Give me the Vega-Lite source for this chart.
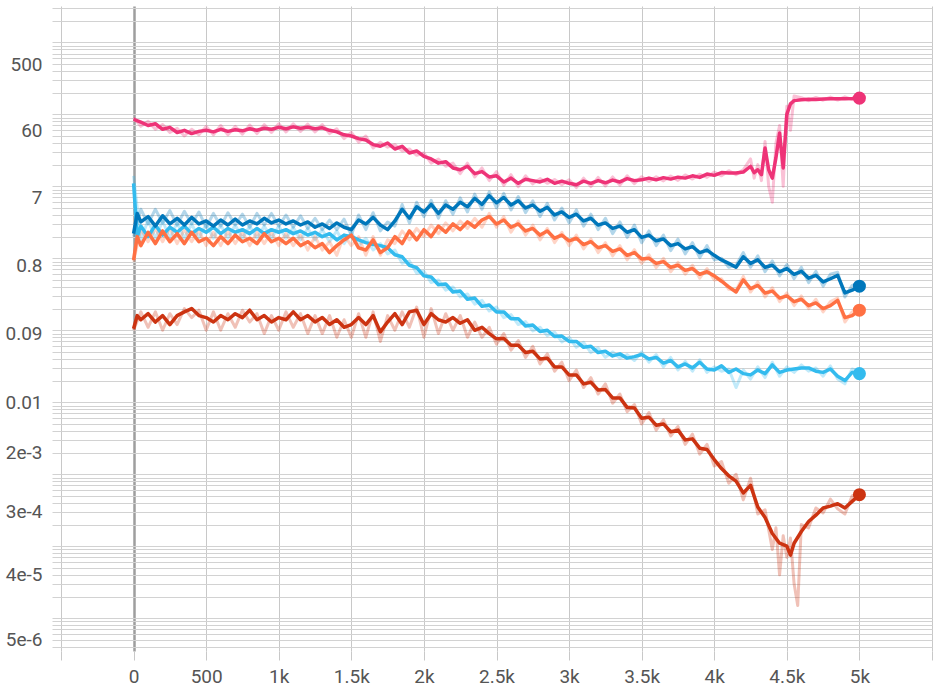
{
  "$schema": "https://vega.github.io/schema/vega-lite/v6.json",
  "width": 871,
  "height": 645,
  "autosize": "none",
  "padding": {"left": 61, "top": 6, "right": 7, "bottom": 40},
  "background": "white",
  "config": {
    "view": {"stroke": null},
    "font": "Roboto",
    "axis": {"labelFont": "Roboto", "labelFontSize": 19, "labelColor": "#555555", "domain": false, "title": null, "labelOverlap": false, "labelFlush": false, "ticks": true}
  },
  "datasets": {
    "smooth": [
      {"run":"cyan","step":0,"value":11},{"run":"cyan","step":25,"value":2.0},{"run":"cyan","step":50,"value":2.8},{"run":"cyan","step":100,"value":2.0},{"run":"cyan","step":150,"value":2.9},{"run":"cyan","step":200,"value":2.1},{"run":"cyan","step":250,"value":2.7},{"run":"cyan","step":300,"value":2.3},{"run":"cyan","step":350,"value":2.8},{"run":"cyan","step":400,"value":2.2},{"run":"cyan","step":450,"value":2.6},{"run":"cyan","step":500,"value":2.3},{"run":"cyan","step":550,"value":2.7},{"run":"cyan","step":600,"value":2.2},{"run":"cyan","step":650,"value":2.6},{"run":"cyan","step":700,"value":2.3},{"run":"cyan","step":750,"value":2.5},{"run":"cyan","step":800,"value":2.2},{"run":"cyan","step":850,"value":2.6},{"run":"cyan","step":900,"value":2.2},{"run":"cyan","step":950,"value":2.5},{"run":"cyan","step":1000,"value":2.3},{"run":"cyan","step":1050,"value":2.5},{"run":"cyan","step":1100,"value":2.2},{"run":"cyan","step":1150,"value":2.4},{"run":"cyan","step":1200,"value":2.1},{"run":"cyan","step":1250,"value":2.3},{"run":"cyan","step":1300,"value":2.0},{"run":"cyan","step":1350,"value":2.2},{"run":"cyan","step":1400,"value":1.8},{"run":"cyan","step":1450,"value":2.1},{"run":"cyan","step":1500,"value":2.0},{"run":"cyan","step":1550,"value":1.8},{"run":"cyan","step":1600,"value":1.65},{"run":"cyan","step":1650,"value":1.55},{"run":"cyan","step":1700,"value":1.5},{"run":"cyan","step":1750,"value":1.4},{"run":"cyan","step":1800,"value":1.12},{"run":"cyan","step":1850,"value":1.05},{"run":"cyan","step":1900,"value":0.8},{"run":"cyan","step":1950,"value":0.74},{"run":"cyan","step":2000,"value":0.57},{"run":"cyan","step":2050,"value":0.55},{"run":"cyan","step":2100,"value":0.43},{"run":"cyan","step":2150,"value":0.44},{"run":"cyan","step":2200,"value":0.34},{"run":"cyan","step":2250,"value":0.35},{"run":"cyan","step":2300,"value":0.27},{"run":"cyan","step":2350,"value":0.28},{"run":"cyan","step":2400,"value":0.215},{"run":"cyan","step":2450,"value":0.225},{"run":"cyan","step":2500,"value":0.18},{"run":"cyan","step":2550,"value":0.18},{"run":"cyan","step":2600,"value":0.145},{"run":"cyan","step":2650,"value":0.145},{"run":"cyan","step":2700,"value":0.115},{"run":"cyan","step":2750,"value":0.118},{"run":"cyan","step":2800,"value":0.096},{"run":"cyan","step":2850,"value":0.1},{"run":"cyan","step":2900,"value":0.082},{"run":"cyan","step":2950,"value":0.083},{"run":"cyan","step":3000,"value":0.07},{"run":"cyan","step":3050,"value":0.07},{"run":"cyan","step":3100,"value":0.058},{"run":"cyan","step":3150,"value":0.06},{"run":"cyan","step":3200,"value":0.049},{"run":"cyan","step":3250,"value":0.051},{"run":"cyan","step":3300,"value":0.044},{"run":"cyan","step":3350,"value":0.047},{"run":"cyan","step":3400,"value":0.041},{"run":"cyan","step":3450,"value":0.043},{"run":"cyan","step":3500,"value":0.046},{"run":"cyan","step":3550,"value":0.04},{"run":"cyan","step":3600,"value":0.042},{"run":"cyan","step":3650,"value":0.035},{"run":"cyan","step":3700,"value":0.038},{"run":"cyan","step":3750,"value":0.031},{"run":"cyan","step":3800,"value":0.034},{"run":"cyan","step":3850,"value":0.03},{"run":"cyan","step":3900,"value":0.036},{"run":"cyan","step":3950,"value":0.029},{"run":"cyan","step":4000,"value":0.028},{"run":"cyan","step":4050,"value":0.032},{"run":"cyan","step":4100,"value":0.026},{"run":"cyan","step":4150,"value":0.029},{"run":"cyan","step":4200,"value":0.025},{"run":"cyan","step":4250,"value":0.024},{"run":"cyan","step":4300,"value":0.028},{"run":"cyan","step":4350,"value":0.025},{"run":"cyan","step":4400,"value":0.033},{"run":"cyan","step":4450,"value":0.026},{"run":"cyan","step":4500,"value":0.028},{"run":"cyan","step":4550,"value":0.029},{"run":"cyan","step":4600,"value":0.03},{"run":"cyan","step":4650,"value":0.03},{"run":"cyan","step":4700,"value":0.027},{"run":"cyan","step":4750,"value":0.026},{"run":"cyan","step":4800,"value":0.029},{"run":"cyan","step":4850,"value":0.023},{"run":"cyan","step":4900,"value":0.02},{"run":"cyan","step":4950,"value":0.026},{"run":"cyan","step":5000,"value":0.025},

      {"run":"orange","step":0,"value":0.95},{"run":"orange","step":25,"value":2.0},{"run":"orange","step":50,"value":1.5},{"run":"orange","step":100,"value":2.3},{"run":"orange","step":150,"value":1.6},{"run":"orange","step":200,"value":2.4},{"run":"orange","step":250,"value":1.7},{"run":"orange","step":300,"value":2.2},{"run":"orange","step":350,"value":1.6},{"run":"orange","step":400,"value":2.3},{"run":"orange","step":450,"value":1.7},{"run":"orange","step":500,"value":1.9},{"run":"orange","step":550,"value":1.5},{"run":"orange","step":600,"value":2.0},{"run":"orange","step":650,"value":1.6},{"run":"orange","step":700,"value":2.1},{"run":"orange","step":750,"value":1.7},{"run":"orange","step":800,"value":1.9},{"run":"orange","step":850,"value":1.6},{"run":"orange","step":900,"value":2.2},{"run":"orange","step":950,"value":1.7},{"run":"orange","step":1000,"value":1.9},{"run":"orange","step":1050,"value":1.6},{"run":"orange","step":1100,"value":1.9},{"run":"orange","step":1150,"value":1.5},{"run":"orange","step":1200,"value":1.7},{"run":"orange","step":1250,"value":1.4},{"run":"orange","step":1300,"value":1.6},{"run":"orange","step":1350,"value":1.2},{"run":"orange","step":1400,"value":1.5},{"run":"orange","step":1450,"value":1.8},{"run":"orange","step":1500,"value":2.1},{"run":"orange","step":1550,"value":1.4},{"run":"orange","step":1600,"value":1.3},{"run":"orange","step":1650,"value":1.8},{"run":"orange","step":1700,"value":1.2},{"run":"orange","step":1750,"value":1.4},{"run":"orange","step":1800,"value":2.0},{"run":"orange","step":1850,"value":1.6},{"run":"orange","step":1900,"value":2.4},{"run":"orange","step":1950,"value":1.8},{"run":"orange","step":2000,"value":2.5},{"run":"orange","step":2050,"value":2.0},{"run":"orange","step":2100,"value":2.8},{"run":"orange","step":2150,"value":2.3},{"run":"orange","step":2200,"value":3.0},{"run":"orange","step":2250,"value":2.5},{"run":"orange","step":2300,"value":3.2},{"run":"orange","step":2350,"value":2.7},{"run":"orange","step":2400,"value":3.4},{"run":"orange","step":2450,"value":3.8},{"run":"orange","step":2500,"value":3.0},{"run":"orange","step":2550,"value":3.4},{"run":"orange","step":2600,"value":2.7},{"run":"orange","step":2650,"value":3.0},{"run":"orange","step":2700,"value":2.4},{"run":"orange","step":2750,"value":2.6},{"run":"orange","step":2800,"value":2.1},{"run":"orange","step":2850,"value":2.4},{"run":"orange","step":2900,"value":1.9},{"run":"orange","step":2950,"value":2.1},{"run":"orange","step":3000,"value":1.75},{"run":"orange","step":3050,"value":1.9},{"run":"orange","step":3100,"value":1.55},{"run":"orange","step":3150,"value":1.7},{"run":"orange","step":3200,"value":1.4},{"run":"orange","step":3250,"value":1.5},{"run":"orange","step":3300,"value":1.25},{"run":"orange","step":3350,"value":1.35},{"run":"orange","step":3400,"value":1.1},{"run":"orange","step":3450,"value":1.2},{"run":"orange","step":3500,"value":0.98},{"run":"orange","step":3550,"value":1.0},{"run":"orange","step":3600,"value":0.85},{"run":"orange","step":3650,"value":0.9},{"run":"orange","step":3700,"value":0.75},{"run":"orange","step":3750,"value":0.8},{"run":"orange","step":3800,"value":0.68},{"run":"orange","step":3850,"value":0.72},{"run":"orange","step":3900,"value":0.6},{"run":"orange","step":3950,"value":0.65},{"run":"orange","step":4000,"value":0.57},{"run":"orange","step":4050,"value":0.48},{"run":"orange","step":4100,"value":0.4},{"run":"orange","step":4150,"value":0.34},{"run":"orange","step":4200,"value":0.5},{"run":"orange","step":4250,"value":0.38},{"run":"orange","step":4300,"value":0.42},{"run":"orange","step":4350,"value":0.33},{"run":"orange","step":4400,"value":0.35},{"run":"orange","step":4450,"value":0.28},{"run":"orange","step":4500,"value":0.3},{"run":"orange","step":4550,"value":0.25},{"run":"orange","step":4600,"value":0.27},{"run":"orange","step":4650,"value":0.22},{"run":"orange","step":4700,"value":0.24},{"run":"orange","step":4750,"value":0.2},{"run":"orange","step":4800,"value":0.22},{"run":"orange","step":4850,"value":0.26},{"run":"orange","step":4900,"value":0.15},{"run":"orange","step":4950,"value":0.16},{"run":"orange","step":5000,"value":0.19},

      {"run":"blue","step":0,"value":2.2},{"run":"blue","step":25,"value":4.2},{"run":"blue","step":50,"value":3.2},{"run":"blue","step":100,"value":3.8},{"run":"blue","step":150,"value":2.8},{"run":"blue","step":200,"value":3.9},{"run":"blue","step":250,"value":3.0},{"run":"blue","step":300,"value":3.6},{"run":"blue","step":350,"value":2.9},{"run":"blue","step":400,"value":3.7},{"run":"blue","step":450,"value":3.0},{"run":"blue","step":500,"value":3.3},{"run":"blue","step":550,"value":2.8},{"run":"blue","step":600,"value":3.4},{"run":"blue","step":650,"value":2.9},{"run":"blue","step":700,"value":3.5},{"run":"blue","step":750,"value":2.9},{"run":"blue","step":800,"value":3.3},{"run":"blue","step":850,"value":3.0},{"run":"blue","step":900,"value":3.6},{"run":"blue","step":950,"value":3.1},{"run":"blue","step":1000,"value":3.4},{"run":"blue","step":1050,"value":3.0},{"run":"blue","step":1100,"value":3.3},{"run":"blue","step":1150,"value":2.9},{"run":"blue","step":1200,"value":3.2},{"run":"blue","step":1250,"value":2.7},{"run":"blue","step":1300,"value":3.0},{"run":"blue","step":1350,"value":2.6},{"run":"blue","step":1400,"value":3.1},{"run":"blue","step":1450,"value":2.7},{"run":"blue","step":1500,"value":2.5},{"run":"blue","step":1550,"value":3.4},{"run":"blue","step":1600,"value":3.0},{"run":"blue","step":1650,"value":3.7},{"run":"blue","step":1700,"value":2.9},{"run":"blue","step":1750,"value":2.5},{"run":"blue","step":1800,"value":3.3},{"run":"blue","step":1850,"value":4.8},{"run":"blue","step":1900,"value":3.6},{"run":"blue","step":1950,"value":5.2},{"run":"blue","step":2000,"value":4.4},{"run":"blue","step":2050,"value":5.6},{"run":"blue","step":2100,"value":4.2},{"run":"blue","step":2150,"value":5.5},{"run":"blue","step":2200,"value":4.8},{"run":"blue","step":2250,"value":6.0},{"run":"blue","step":2300,"value":5.2},{"run":"blue","step":2350,"value":6.8},{"run":"blue","step":2400,"value":5.6},{"run":"blue","step":2450,"value":7.4},{"run":"blue","step":2500,"value":5.9},{"run":"blue","step":2550,"value":7.0},{"run":"blue","step":2600,"value":5.5},{"run":"blue","step":2650,"value":6.3},{"run":"blue","step":2700,"value":5.0},{"run":"blue","step":2750,"value":5.5},{"run":"blue","step":2800,"value":4.5},{"run":"blue","step":2850,"value":5.1},{"run":"blue","step":2900,"value":4.0},{"run":"blue","step":2950,"value":4.4},{"run":"blue","step":3000,"value":3.7},{"run":"blue","step":3050,"value":4.1},{"run":"blue","step":3100,"value":3.3},{"run":"blue","step":3150,"value":3.6},{"run":"blue","step":3200,"value":2.9},{"run":"blue","step":3250,"value":3.1},{"run":"blue","step":3300,"value":2.6},{"run":"blue","step":3350,"value":2.8},{"run":"blue","step":3400,"value":2.3},{"run":"blue","step":3450,"value":2.5},{"run":"blue","step":3500,"value":1.95},{"run":"blue","step":3550,"value":2.1},{"run":"blue","step":3600,"value":1.75},{"run":"blue","step":3650,"value":1.85},{"run":"blue","step":3700,"value":1.5},{"run":"blue","step":3750,"value":1.6},{"run":"blue","step":3800,"value":1.35},{"run":"blue","step":3850,"value":1.45},{"run":"blue","step":3900,"value":1.2},{"run":"blue","step":3950,"value":1.3},{"run":"blue","step":4000,"value":1.1},{"run":"blue","step":4050,"value":0.95},{"run":"blue","step":4100,"value":0.85},{"run":"blue","step":4150,"value":0.75},{"run":"blue","step":4200,"value":1.05},{"run":"blue","step":4250,"value":0.85},{"run":"blue","step":4300,"value":0.95},{"run":"blue","step":4350,"value":0.75},{"run":"blue","step":4400,"value":0.8},{"run":"blue","step":4450,"value":0.65},{"run":"blue","step":4500,"value":0.72},{"run":"blue","step":4550,"value":0.6},{"run":"blue","step":4600,"value":0.66},{"run":"blue","step":4650,"value":0.53},{"run":"blue","step":4700,"value":0.58},{"run":"blue","step":4750,"value":0.47},{"run":"blue","step":4800,"value":0.52},{"run":"blue","step":4850,"value":0.58},{"run":"blue","step":4900,"value":0.33},{"run":"blue","step":4950,"value":0.36},{"run":"blue","step":5000,"value":0.41},

      {"run":"magenta","step":0,"value":85},{"run":"magenta","step":50,"value":78},{"run":"magenta","step":100,"value":70},{"run":"magenta","step":150,"value":74},{"run":"magenta","step":200,"value":62},{"run":"magenta","step":250,"value":66},{"run":"magenta","step":300,"value":56},{"run":"magenta","step":350,"value":60},{"run":"magenta","step":400,"value":54},{"run":"magenta","step":450,"value":58},{"run":"magenta","step":500,"value":60},{"run":"magenta","step":550,"value":57},{"run":"magenta","step":600,"value":62},{"run":"magenta","step":650,"value":58},{"run":"magenta","step":700,"value":61},{"run":"magenta","step":750,"value":59},{"run":"magenta","step":800,"value":63},{"run":"magenta","step":850,"value":60},{"run":"magenta","step":900,"value":64},{"run":"magenta","step":950,"value":62},{"run":"magenta","step":1000,"value":66},{"run":"magenta","step":1050,"value":63},{"run":"magenta","step":1100,"value":67},{"run":"magenta","step":1150,"value":64},{"run":"magenta","step":1200,"value":66},{"run":"magenta","step":1250,"value":63},{"run":"magenta","step":1300,"value":65},{"run":"magenta","step":1350,"value":60},{"run":"magenta","step":1400,"value":57},{"run":"magenta","step":1450,"value":52},{"run":"magenta","step":1500,"value":50},{"run":"magenta","step":1550,"value":46},{"run":"magenta","step":1600,"value":44},{"run":"magenta","step":1650,"value":38},{"run":"magenta","step":1700,"value":36},{"run":"magenta","step":1750,"value":40},{"run":"magenta","step":1800,"value":33},{"run":"magenta","step":1850,"value":36},{"run":"magenta","step":1900,"value":29},{"run":"magenta","step":1950,"value":31},{"run":"magenta","step":2000,"value":26},{"run":"magenta","step":2050,"value":24},{"run":"magenta","step":2100,"value":21},{"run":"magenta","step":2150,"value":22},{"run":"magenta","step":2200,"value":18},{"run":"magenta","step":2250,"value":17},{"run":"magenta","step":2300,"value":19},{"run":"magenta","step":2350,"value":15},{"run":"magenta","step":2400,"value":16},{"run":"magenta","step":2450,"value":13.5},{"run":"magenta","step":2500,"value":14},{"run":"magenta","step":2550,"value":11.5},{"run":"magenta","step":2600,"value":13},{"run":"magenta","step":2650,"value":11},{"run":"magenta","step":2700,"value":12.5},{"run":"magenta","step":2750,"value":12},{"run":"magenta","step":2800,"value":11.5},{"run":"magenta","step":2850,"value":12.5},{"run":"magenta","step":2900,"value":11},{"run":"magenta","step":2950,"value":11.8},{"run":"magenta","step":3000,"value":11},{"run":"magenta","step":3050,"value":10.5},{"run":"magenta","step":3100,"value":11.8},{"run":"magenta","step":3150,"value":11},{"run":"magenta","step":3200,"value":12},{"run":"magenta","step":3250,"value":11.2},{"run":"magenta","step":3300,"value":12.2},{"run":"magenta","step":3350,"value":11.5},{"run":"magenta","step":3400,"value":12.8},{"run":"magenta","step":3450,"value":12},{"run":"magenta","step":3500,"value":12.3},{"run":"magenta","step":3550,"value":13},{"run":"magenta","step":3600,"value":12.3},{"run":"magenta","step":3650,"value":13.2},{"run":"magenta","step":3700,"value":12.6},{"run":"magenta","step":3750,"value":13.4},{"run":"magenta","step":3800,"value":13},{"run":"magenta","step":3850,"value":14},{"run":"magenta","step":3900,"value":13.3},{"run":"magenta","step":3950,"value":14.8},{"run":"magenta","step":4000,"value":14.2},{"run":"magenta","step":4050,"value":15.5},{"run":"magenta","step":4100,"value":15.3},{"run":"magenta","step":4150,"value":15.3},{"run":"magenta","step":4200,"value":15.8},{"run":"magenta","step":4250,"value":19},{"run":"magenta","step":4275,"value":15.5},{"run":"magenta","step":4300,"value":17},{"run":"magenta","step":4325,"value":14.5},{"run":"magenta","step":4350,"value":34},{"run":"magenta","step":4375,"value":17},{"run":"magenta","step":4400,"value":13},{"run":"magenta","step":4425,"value":25},{"run":"magenta","step":4450,"value":55},{"run":"magenta","step":4475,"value":18},{"run":"magenta","step":4500,"value":100},{"run":"magenta","step":4525,"value":140},{"run":"magenta","step":4550,"value":155},{"run":"magenta","step":4600,"value":160},{"run":"magenta","step":4650,"value":162},{"run":"magenta","step":4700,"value":161},{"run":"magenta","step":4750,"value":163},{"run":"magenta","step":4800,"value":164},{"run":"magenta","step":4850,"value":164},{"run":"magenta","step":4900,"value":165},{"run":"magenta","step":4950,"value":166},{"run":"magenta","step":5000,"value":168},

      {"run":"red","step":0,"value":0.105},{"run":"red","step":25,"value":0.16},{"run":"red","step":50,"value":0.14},{"run":"red","step":100,"value":0.17},{"run":"red","step":150,"value":0.13},{"run":"red","step":200,"value":0.16},{"run":"red","step":250,"value":0.12},{"run":"red","step":300,"value":0.16},{"run":"red","step":350,"value":0.18},{"run":"red","step":400,"value":0.2},{"run":"red","step":450,"value":0.16},{"run":"red","step":500,"value":0.15},{"run":"red","step":550,"value":0.13},{"run":"red","step":600,"value":0.16},{"run":"red","step":650,"value":0.14},{"run":"red","step":700,"value":0.17},{"run":"red","step":750,"value":0.15},{"run":"red","step":800,"value":0.19},{"run":"red","step":850,"value":0.14},{"run":"red","step":900,"value":0.16},{"run":"red","step":950,"value":0.13},{"run":"red","step":1000,"value":0.15},{"run":"red","step":1050,"value":0.14},{"run":"red","step":1100,"value":0.18},{"run":"red","step":1150,"value":0.14},{"run":"red","step":1200,"value":0.16},{"run":"red","step":1250,"value":0.13},{"run":"red","step":1300,"value":0.15},{"run":"red","step":1350,"value":0.12},{"run":"red","step":1400,"value":0.14},{"run":"red","step":1450,"value":0.11},{"run":"red","step":1500,"value":0.12},{"run":"red","step":1550,"value":0.15},{"run":"red","step":1600,"value":0.12},{"run":"red","step":1650,"value":0.16},{"run":"red","step":1700,"value":0.095},{"run":"red","step":1750,"value":0.13},{"run":"red","step":1800,"value":0.17},{"run":"red","step":1850,"value":0.12},{"run":"red","step":1900,"value":0.18},{"run":"red","step":1950,"value":0.19},{"run":"red","step":2000,"value":0.12},{"run":"red","step":2050,"value":0.17},{"run":"red","step":2100,"value":0.14},{"run":"red","step":2150,"value":0.13},{"run":"red","step":2200,"value":0.15},{"run":"red","step":2250,"value":0.125},{"run":"red","step":2300,"value":0.14},{"run":"red","step":2350,"value":0.1},{"run":"red","step":2400,"value":0.11},{"run":"red","step":2450,"value":0.09},{"run":"red","step":2500,"value":0.076},{"run":"red","step":2550,"value":0.077},{"run":"red","step":2600,"value":0.062},{"run":"red","step":2650,"value":0.062},{"run":"red","step":2700,"value":0.049},{"run":"red","step":2750,"value":0.051},{"run":"red","step":2800,"value":0.04},{"run":"red","step":2850,"value":0.041},{"run":"red","step":2900,"value":0.031},{"run":"red","step":2950,"value":0.031},{"run":"red","step":3000,"value":0.024},{"run":"red","step":3050,"value":0.024},{"run":"red","step":3100,"value":0.018},{"run":"red","step":3150,"value":0.019},{"run":"red","step":3200,"value":0.0148},{"run":"red","step":3250,"value":0.015},{"run":"red","step":3300,"value":0.0115},{"run":"red","step":3350,"value":0.0115},{"run":"red","step":3400,"value":0.0085},{"run":"red","step":3450,"value":0.0083},{"run":"red","step":3500,"value":0.006},{"run":"red","step":3550,"value":0.0062},{"run":"red","step":3600,"value":0.0048},{"run":"red","step":3650,"value":0.005},{"run":"red","step":3700,"value":0.0039},{"run":"red","step":3750,"value":0.0041},{"run":"red","step":3800,"value":0.003},{"run":"red","step":3850,"value":0.0031},{"run":"red","step":3900,"value":0.0023},{"run":"red","step":3950,"value":0.0022},{"run":"red","step":4000,"value":0.0016},{"run":"red","step":4050,"value":0.0012},{"run":"red","step":4100,"value":0.00095},{"run":"red","step":4150,"value":0.0008},{"run":"red","step":4200,"value":0.00055},{"run":"red","step":4250,"value":0.0007},{"run":"red","step":4300,"value":0.00035},{"run":"red","step":4350,"value":0.00025},{"run":"red","step":4400,"value":0.00015},{"run":"red","step":4450,"value":0.00011},{"run":"red","step":4500,"value":0.0001},{"run":"red","step":4525,"value":0.000075},{"run":"red","step":4550,"value":0.00011},{"run":"red","step":4600,"value":0.00016},{"run":"red","step":4650,"value":0.00022},{"run":"red","step":4700,"value":0.00027},{"run":"red","step":4750,"value":0.00034},{"run":"red","step":4800,"value":0.00036},{"run":"red","step":4850,"value":0.00039},{"run":"red","step":4900,"value":0.00034},{"run":"red","step":4950,"value":0.00042},{"run":"red","step":5000,"value":0.00052}
    ],
    "raw": [
      {"run":"cyan","step":0,"value":14},{"run":"cyan","step":50,"value":1.8},{"run":"cyan","step":100,"value":3.4},{"run":"cyan","step":150,"value":1.9},{"run":"cyan","step":200,"value":3.3},{"run":"cyan","step":250,"value":1.9},{"run":"cyan","step":300,"value":3.1},{"run":"cyan","step":350,"value":1.9},{"run":"cyan","step":400,"value":3.0},{"run":"cyan","step":450,"value":1.9},{"run":"cyan","step":500,"value":3.0},{"run":"cyan","step":550,"value":1.9},{"run":"cyan","step":600,"value":2.9},{"run":"cyan","step":650,"value":1.9},{"run":"cyan","step":700,"value":2.9},{"run":"cyan","step":750,"value":1.9},{"run":"cyan","step":800,"value":2.8},{"run":"cyan","step":850,"value":1.9},{"run":"cyan","step":900,"value":2.8},{"run":"cyan","step":950,"value":1.9},{"run":"cyan","step":1000,"value":2.8},{"run":"cyan","step":1050,"value":1.9},{"run":"cyan","step":1100,"value":2.7},{"run":"cyan","step":1150,"value":1.8},{"run":"cyan","step":1200,"value":2.6},{"run":"cyan","step":1250,"value":1.8},{"run":"cyan","step":1300,"value":2.5},{"run":"cyan","step":1350,"value":1.7},{"run":"cyan","step":1400,"value":2.4},{"run":"cyan","step":1450,"value":1.6},{"run":"cyan","step":1500,"value":2.3},{"run":"cyan","step":1550,"value":1.5},{"run":"cyan","step":1600,"value":1.9},{"run":"cyan","step":1650,"value":1.3},{"run":"cyan","step":1700,"value":1.6},{"run":"cyan","step":1750,"value":1.15},{"run":"cyan","step":1800,"value":1.3},{"run":"cyan","step":1850,"value":0.85},{"run":"cyan","step":1900,"value":0.92},{"run":"cyan","step":1950,"value":0.62},{"run":"cyan","step":2000,"value":0.66},{"run":"cyan","step":2050,"value":0.46},{"run":"cyan","step":2100,"value":0.5},{"run":"cyan","step":2150,"value":0.36},{"run":"cyan","step":2200,"value":0.4},{"run":"cyan","step":2250,"value":0.29},{"run":"cyan","step":2300,"value":0.32},{"run":"cyan","step":2350,"value":0.23},{"run":"cyan","step":2400,"value":0.26},{"run":"cyan","step":2450,"value":0.185},{"run":"cyan","step":2500,"value":0.21},{"run":"cyan","step":2550,"value":0.15},{"run":"cyan","step":2600,"value":0.165},{"run":"cyan","step":2650,"value":0.12},{"run":"cyan","step":2700,"value":0.132},{"run":"cyan","step":2750,"value":0.098},{"run":"cyan","step":2800,"value":0.11},{"run":"cyan","step":2850,"value":0.084},{"run":"cyan","step":2900,"value":0.094},{"run":"cyan","step":2950,"value":0.069},{"run":"cyan","step":3000,"value":0.08},{"run":"cyan","step":3050,"value":0.058},{"run":"cyan","step":3100,"value":0.068},{"run":"cyan","step":3150,"value":0.049},{"run":"cyan","step":3200,"value":0.057},{"run":"cyan","step":3250,"value":0.042},{"run":"cyan","step":3300,"value":0.05},{"run":"cyan","step":3350,"value":0.041},{"run":"cyan","step":3400,"value":0.046},{"run":"cyan","step":3450,"value":0.038},{"run":"cyan","step":3500,"value":0.05},{"run":"cyan","step":3550,"value":0.036},{"run":"cyan","step":3600,"value":0.046},{"run":"cyan","step":3650,"value":0.031},{"run":"cyan","step":3700,"value":0.042},{"run":"cyan","step":3750,"value":0.028},{"run":"cyan","step":3800,"value":0.037},{"run":"cyan","step":3850,"value":0.027},{"run":"cyan","step":3900,"value":0.039},{"run":"cyan","step":3950,"value":0.026},{"run":"cyan","step":4000,"value":0.031},{"run":"cyan","step":4050,"value":0.027},{"run":"cyan","step":4100,"value":0.029},{"run":"cyan","step":4150,"value":0.016},{"run":"cyan","step":4200,"value":0.028},{"run":"cyan","step":4250,"value":0.021},{"run":"cyan","step":4300,"value":0.031},{"run":"cyan","step":4350,"value":0.022},{"run":"cyan","step":4400,"value":0.036},{"run":"cyan","step":4450,"value":0.023},{"run":"cyan","step":4500,"value":0.031},{"run":"cyan","step":4550,"value":0.026},{"run":"cyan","step":4600,"value":0.033},{"run":"cyan","step":4650,"value":0.027},{"run":"cyan","step":4700,"value":0.03},{"run":"cyan","step":4750,"value":0.023},{"run":"cyan","step":4800,"value":0.032},{"run":"cyan","step":4850,"value":0.021},{"run":"cyan","step":4900,"value":0.018},{"run":"cyan","step":4950,"value":0.029},{"run":"cyan","step":5000,"value":0.027},

      {"run":"orange","step":0,"value":0.9},{"run":"orange","step":50,"value":2.6},{"run":"orange","step":100,"value":1.7},{"run":"orange","step":150,"value":2.6},{"run":"orange","step":200,"value":1.7},{"run":"orange","step":250,"value":2.6},{"run":"orange","step":300,"value":1.6},{"run":"orange","step":350,"value":2.5},{"run":"orange","step":400,"value":1.7},{"run":"orange","step":450,"value":2.4},{"run":"orange","step":500,"value":1.5},{"run":"orange","step":550,"value":2.3},{"run":"orange","step":600,"value":1.5},{"run":"orange","step":650,"value":2.4},{"run":"orange","step":700,"value":1.6},{"run":"orange","step":750,"value":2.3},{"run":"orange","step":800,"value":1.5},{"run":"orange","step":850,"value":2.3},{"run":"orange","step":900,"value":1.6},{"run":"orange","step":950,"value":2.3},{"run":"orange","step":1000,"value":1.5},{"run":"orange","step":1050,"value":2.2},{"run":"orange","step":1100,"value":1.5},{"run":"orange","step":1150,"value":2.1},{"run":"orange","step":1200,"value":1.3},{"run":"orange","step":1250,"value":2.0},{"run":"orange","step":1300,"value":1.3},{"run":"orange","step":1350,"value":1.7},{"run":"orange","step":1400,"value":1.1},{"run":"orange","step":1450,"value":2.1},{"run":"orange","step":1500,"value":1.5},{"run":"orange","step":1550,"value":2.0},{"run":"orange","step":1600,"value":1.1},{"run":"orange","step":1650,"value":2.0},{"run":"orange","step":1700,"value":1.1},{"run":"orange","step":1750,"value":1.8},{"run":"orange","step":1800,"value":1.6},{"run":"orange","step":1850,"value":2.4},{"run":"orange","step":1900,"value":1.8},{"run":"orange","step":1950,"value":2.6},{"run":"orange","step":2000,"value":2.0},{"run":"orange","step":2050,"value":2.9},{"run":"orange","step":2100,"value":2.2},{"run":"orange","step":2150,"value":3.1},{"run":"orange","step":2200,"value":2.4},{"run":"orange","step":2250,"value":3.3},{"run":"orange","step":2300,"value":2.6},{"run":"orange","step":2350,"value":3.6},{"run":"orange","step":2400,"value":2.7},{"run":"orange","step":2450,"value":4.2},{"run":"orange","step":2500,"value":2.7},{"run":"orange","step":2550,"value":3.8},{"run":"orange","step":2600,"value":2.3},{"run":"orange","step":2650,"value":3.3},{"run":"orange","step":2700,"value":2.1},{"run":"orange","step":2750,"value":2.9},{"run":"orange","step":2800,"value":1.8},{"run":"orange","step":2850,"value":2.6},{"run":"orange","step":2900,"value":1.65},{"run":"orange","step":2950,"value":2.3},{"run":"orange","step":3000,"value":1.5},{"run":"orange","step":3050,"value":2.1},{"run":"orange","step":3100,"value":1.35},{"run":"orange","step":3150,"value":1.85},{"run":"orange","step":3200,"value":1.2},{"run":"orange","step":3250,"value":1.65},{"run":"orange","step":3300,"value":1.08},{"run":"orange","step":3350,"value":1.5},{"run":"orange","step":3400,"value":0.95},{"run":"orange","step":3450,"value":1.32},{"run":"orange","step":3500,"value":0.85},{"run":"orange","step":3550,"value":1.12},{"run":"orange","step":3600,"value":0.74},{"run":"orange","step":3650,"value":1.0},{"run":"orange","step":3700,"value":0.65},{"run":"orange","step":3750,"value":0.88},{"run":"orange","step":3800,"value":0.6},{"run":"orange","step":3850,"value":0.8},{"run":"orange","step":3900,"value":0.53},{"run":"orange","step":3950,"value":0.72},{"run":"orange","step":4000,"value":0.5},{"run":"orange","step":4050,"value":0.52},{"run":"orange","step":4100,"value":0.37},{"run":"orange","step":4150,"value":0.36},{"run":"orange","step":4200,"value":0.56},{"run":"orange","step":4250,"value":0.34},{"run":"orange","step":4300,"value":0.47},{"run":"orange","step":4350,"value":0.29},{"run":"orange","step":4400,"value":0.39},{"run":"orange","step":4450,"value":0.25},{"run":"orange","step":4500,"value":0.33},{"run":"orange","step":4550,"value":0.22},{"run":"orange","step":4600,"value":0.3},{"run":"orange","step":4650,"value":0.2},{"run":"orange","step":4700,"value":0.27},{"run":"orange","step":4750,"value":0.18},{"run":"orange","step":4800,"value":0.25},{"run":"orange","step":4850,"value":0.28},{"run":"orange","step":4900,"value":0.13},{"run":"orange","step":4950,"value":0.18},{"run":"orange","step":5000,"value":0.21},

      {"run":"blue","step":0,"value":2.0},{"run":"blue","step":50,"value":4.8},{"run":"blue","step":100,"value":3.0},{"run":"blue","step":150,"value":4.8},{"run":"blue","step":200,"value":3.1},{"run":"blue","step":250,"value":4.6},{"run":"blue","step":300,"value":2.9},{"run":"blue","step":350,"value":4.5},{"run":"blue","step":400,"value":3.0},{"run":"blue","step":450,"value":4.4},{"run":"blue","step":500,"value":2.7},{"run":"blue","step":550,"value":4.2},{"run":"blue","step":600,"value":2.8},{"run":"blue","step":650,"value":4.3},{"run":"blue","step":700,"value":2.9},{"run":"blue","step":750,"value":4.1},{"run":"blue","step":800,"value":2.7},{"run":"blue","step":850,"value":4.2},{"run":"blue","step":900,"value":2.9},{"run":"blue","step":950,"value":4.2},{"run":"blue","step":1000,"value":2.8},{"run":"blue","step":1050,"value":4.0},{"run":"blue","step":1100,"value":2.7},{"run":"blue","step":1150,"value":3.9},{"run":"blue","step":1200,"value":2.6},{"run":"blue","step":1250,"value":3.6},{"run":"blue","step":1300,"value":2.5},{"run":"blue","step":1350,"value":3.4},{"run":"blue","step":1400,"value":2.5},{"run":"blue","step":1450,"value":3.5},{"run":"blue","step":1500,"value":2.1},{"run":"blue","step":1550,"value":4.0},{"run":"blue","step":1600,"value":2.5},{"run":"blue","step":1650,"value":4.3},{"run":"blue","step":1700,"value":2.4},{"run":"blue","step":1750,"value":3.2},{"run":"blue","step":1800,"value":2.8},{"run":"blue","step":1850,"value":5.6},{"run":"blue","step":1900,"value":3.1},{"run":"blue","step":1950,"value":6.0},{"run":"blue","step":2000,"value":3.8},{"run":"blue","step":2050,"value":6.4},{"run":"blue","step":2100,"value":3.6},{"run":"blue","step":2150,"value":6.3},{"run":"blue","step":2200,"value":4.1},{"run":"blue","step":2250,"value":6.9},{"run":"blue","step":2300,"value":4.4},{"run":"blue","step":2350,"value":7.8},{"run":"blue","step":2400,"value":4.8},{"run":"blue","step":2450,"value":8.4},{"run":"blue","step":2500,"value":5.0},{"run":"blue","step":2550,"value":8.0},{"run":"blue","step":2600,"value":4.7},{"run":"blue","step":2650,"value":7.2},{"run":"blue","step":2700,"value":4.3},{"run":"blue","step":2750,"value":6.3},{"run":"blue","step":2800,"value":3.8},{"run":"blue","step":2850,"value":5.8},{"run":"blue","step":2900,"value":3.4},{"run":"blue","step":2950,"value":5.0},{"run":"blue","step":3000,"value":3.1},{"run":"blue","step":3050,"value":4.7},{"run":"blue","step":3100,"value":2.8},{"run":"blue","step":3150,"value":4.1},{"run":"blue","step":3200,"value":2.5},{"run":"blue","step":3250,"value":3.6},{"run":"blue","step":3300,"value":2.2},{"run":"blue","step":3350,"value":3.2},{"run":"blue","step":3400,"value":1.95},{"run":"blue","step":3450,"value":2.9},{"run":"blue","step":3500,"value":1.65},{"run":"blue","step":3550,"value":2.4},{"run":"blue","step":3600,"value":1.5},{"run":"blue","step":3650,"value":2.1},{"run":"blue","step":3700,"value":1.28},{"run":"blue","step":3750,"value":1.85},{"run":"blue","step":3800,"value":1.15},{"run":"blue","step":3850,"value":1.65},{"run":"blue","step":3900,"value":1.02},{"run":"blue","step":3950,"value":1.5},{"run":"blue","step":4000,"value":0.95},{"run":"blue","step":4050,"value":1.0},{"run":"blue","step":4100,"value":0.75},{"run":"blue","step":4150,"value":0.8},{"run":"blue","step":4200,"value":1.2},{"run":"blue","step":4250,"value":0.75},{"run":"blue","step":4300,"value":1.08},{"run":"blue","step":4350,"value":0.65},{"run":"blue","step":4400,"value":0.92},{"run":"blue","step":4450,"value":0.57},{"run":"blue","step":4500,"value":0.82},{"run":"blue","step":4550,"value":0.52},{"run":"blue","step":4600,"value":0.75},{"run":"blue","step":4650,"value":0.46},{"run":"blue","step":4700,"value":0.66},{"run":"blue","step":4750,"value":0.41},{"run":"blue","step":4800,"value":0.6},{"run":"blue","step":4850,"value":0.64},{"run":"blue","step":4900,"value":0.29},{"run":"blue","step":4950,"value":0.42},{"run":"blue","step":5000,"value":0.45},

      {"run":"magenta","step":0,"value":90},{"run":"magenta","step":50,"value":68},{"run":"magenta","step":100,"value":80},{"run":"magenta","step":150,"value":62},{"run":"magenta","step":200,"value":72},{"run":"magenta","step":250,"value":56},{"run":"magenta","step":300,"value":64},{"run":"magenta","step":350,"value":50},{"run":"magenta","step":400,"value":62},{"run":"magenta","step":450,"value":52},{"run":"magenta","step":500,"value":68},{"run":"magenta","step":550,"value":52},{"run":"magenta","step":600,"value":70},{"run":"magenta","step":650,"value":52},{"run":"magenta","step":700,"value":68},{"run":"magenta","step":750,"value":53},{"run":"magenta","step":800,"value":71},{"run":"magenta","step":850,"value":54},{"run":"magenta","step":900,"value":72},{"run":"magenta","step":950,"value":56},{"run":"magenta","step":1000,"value":74},{"run":"magenta","step":1050,"value":57},{"run":"magenta","step":1100,"value":74},{"run":"magenta","step":1150,"value":58},{"run":"magenta","step":1200,"value":73},{"run":"magenta","step":1250,"value":57},{"run":"magenta","step":1300,"value":72},{"run":"magenta","step":1350,"value":54},{"run":"magenta","step":1400,"value":63},{"run":"magenta","step":1450,"value":46},{"run":"magenta","step":1500,"value":56},{"run":"magenta","step":1550,"value":41},{"run":"magenta","step":1600,"value":50},{"run":"magenta","step":1650,"value":34},{"run":"magenta","step":1700,"value":41},{"run":"magenta","step":1750,"value":35},{"run":"magenta","step":1800,"value":38},{"run":"magenta","step":1850,"value":31},{"run":"magenta","step":1900,"value":33},{"run":"magenta","step":1950,"value":27},{"run":"magenta","step":2000,"value":29},{"run":"magenta","step":2050,"value":21},{"run":"magenta","step":2100,"value":24},{"run":"magenta","step":2150,"value":19},{"run":"magenta","step":2200,"value":21},{"run":"magenta","step":2250,"value":15},{"run":"magenta","step":2300,"value":21},{"run":"magenta","step":2350,"value":13.5},{"run":"magenta","step":2400,"value":18},{"run":"magenta","step":2450,"value":12},{"run":"magenta","step":2500,"value":16},{"run":"magenta","step":2550,"value":10.3},{"run":"magenta","step":2600,"value":14.5},{"run":"magenta","step":2650,"value":9.9},{"run":"magenta","step":2700,"value":14},{"run":"magenta","step":2750,"value":10.8},{"run":"magenta","step":2800,"value":12.8},{"run":"magenta","step":2850,"value":11},{"run":"magenta","step":2900,"value":12.4},{"run":"magenta","step":2950,"value":10.5},{"run":"magenta","step":3000,"value":12.3},{"run":"magenta","step":3050,"value":9.6},{"run":"magenta","step":3100,"value":13},{"run":"magenta","step":3150,"value":9.9},{"run":"magenta","step":3200,"value":13.3},{"run":"magenta","step":3250,"value":10.1},{"run":"magenta","step":3300,"value":13.5},{"run":"magenta","step":3350,"value":10.4},{"run":"magenta","step":3400,"value":14},{"run":"magenta","step":3450,"value":10.9},{"run":"magenta","step":3500,"value":13.6},{"run":"magenta","step":3550,"value":11.7},{"run":"magenta","step":3600,"value":13.6},{"run":"magenta","step":3650,"value":11.9},{"run":"magenta","step":3700,"value":13.9},{"run":"magenta","step":3750,"value":12.1},{"run":"magenta","step":3800,"value":14.4},{"run":"magenta","step":3850,"value":12.6},{"run":"magenta","step":3900,"value":14.7},{"run":"magenta","step":3950,"value":13.3},{"run":"magenta","step":4000,"value":15.8},{"run":"magenta","step":4050,"value":14},{"run":"magenta","step":4100,"value":16.5},{"run":"magenta","step":4150,"value":14.5},{"run":"magenta","step":4200,"value":17},{"run":"magenta","step":4250,"value":24},{"run":"magenta","step":4275,"value":13},{"run":"magenta","step":4300,"value":20},{"run":"magenta","step":4325,"value":12},{"run":"magenta","step":4350,"value":42},{"run":"magenta","step":4375,"value":10},{"run":"magenta","step":4400,"value":6},{"run":"magenta","step":4425,"value":40},{"run":"magenta","step":4450,"value":70},{"run":"magenta","step":4475,"value":10},{"run":"magenta","step":4500,"value":130},{"run":"magenta","step":4525,"value":60},{"run":"magenta","step":4550,"value":180},{"run":"magenta","step":4600,"value":170},{"run":"magenta","step":4650,"value":155},{"run":"magenta","step":4700,"value":172},{"run":"magenta","step":4750,"value":157},{"run":"magenta","step":4800,"value":174},{"run":"magenta","step":4850,"value":158},{"run":"magenta","step":4900,"value":175},{"run":"magenta","step":4950,"value":160},{"run":"magenta","step":5000,"value":175},

      {"run":"red","step":0,"value":0.1},{"run":"red","step":50,"value":0.18},{"run":"red","step":100,"value":0.11},{"run":"red","step":150,"value":0.18},{"run":"red","step":200,"value":0.1},{"run":"red","step":250,"value":0.17},{"run":"red","step":300,"value":0.12},{"run":"red","step":350,"value":0.2},{"run":"red","step":400,"value":0.15},{"run":"red","step":450,"value":0.19},{"run":"red","step":500,"value":0.1},{"run":"red","step":550,"value":0.18},{"run":"red","step":600,"value":0.1},{"run":"red","step":650,"value":0.17},{"run":"red","step":700,"value":0.11},{"run":"red","step":750,"value":0.19},{"run":"red","step":800,"value":0.13},{"run":"red","step":850,"value":0.17},{"run":"red","step":900,"value":0.09},{"run":"red","step":950,"value":0.16},{"run":"red","step":1000,"value":0.1},{"run":"red","step":1050,"value":0.18},{"run":"red","step":1100,"value":0.11},{"run":"red","step":1150,"value":0.17},{"run":"red","step":1200,"value":0.09},{"run":"red","step":1250,"value":0.16},{"run":"red","step":1300,"value":0.09},{"run":"red","step":1350,"value":0.16},{"run":"red","step":1400,"value":0.08},{"run":"red","step":1450,"value":0.14},{"run":"red","step":1500,"value":0.08},{"run":"red","step":1550,"value":0.17},{"run":"red","step":1600,"value":0.08},{"run":"red","step":1650,"value":0.18},{"run":"red","step":1700,"value":0.07},{"run":"red","step":1750,"value":0.16},{"run":"red","step":1800,"value":0.1},{"run":"red","step":1850,"value":0.18},{"run":"red","step":1900,"value":0.11},{"run":"red","step":1950,"value":0.21},{"run":"red","step":2000,"value":0.08},{"run":"red","step":2050,"value":0.2},{"run":"red","step":2100,"value":0.09},{"run":"red","step":2150,"value":0.17},{"run":"red","step":2200,"value":0.1},{"run":"red","step":2250,"value":0.16},{"run":"red","step":2300,"value":0.08},{"run":"red","step":2350,"value":0.13},{"run":"red","step":2400,"value":0.08},{"run":"red","step":2450,"value":0.11},{"run":"red","step":2500,"value":0.064},{"run":"red","step":2550,"value":0.09},{"run":"red","step":2600,"value":0.053},{"run":"red","step":2650,"value":0.072},{"run":"red","step":2700,"value":0.042},{"run":"red","step":2750,"value":0.06},{"run":"red","step":2800,"value":0.034},{"run":"red","step":2850,"value":0.047},{"run":"red","step":2900,"value":0.027},{"run":"red","step":2950,"value":0.036},{"run":"red","step":3000,"value":0.02},{"run":"red","step":3050,"value":0.028},{"run":"red","step":3100,"value":0.016},{"run":"red","step":3150,"value":0.022},{"run":"red","step":3200,"value":0.013},{"run":"red","step":3250,"value":0.018},{"run":"red","step":3300,"value":0.0097},{"run":"red","step":3350,"value":0.013},{"run":"red","step":3400,"value":0.0074},{"run":"red","step":3450,"value":0.0093},{"run":"red","step":3500,"value":0.005},{"run":"red","step":3550,"value":0.0072},{"run":"red","step":3600,"value":0.0041},{"run":"red","step":3650,"value":0.0057},{"run":"red","step":3700,"value":0.0034},{"run":"red","step":3750,"value":0.0046},{"run":"red","step":3800,"value":0.0026},{"run":"red","step":3850,"value":0.0036},{"run":"red","step":3900,"value":0.0019},{"run":"red","step":3950,"value":0.0026},{"run":"red","step":4000,"value":0.0013},{"run":"red","step":4050,"value":0.0015},{"run":"red","step":4100,"value":0.00075},{"run":"red","step":4150,"value":0.001},{"run":"red","step":4200,"value":0.00044},{"run":"red","step":4250,"value":0.00088},{"run":"red","step":4300,"value":0.00028},{"run":"red","step":4350,"value":0.00032},{"run":"red","step":4400,"value":0.00009},{"run":"red","step":4425,"value":0.00018},{"run":"red","step":4450,"value":0.00004},{"run":"red","step":4475,"value":0.00014},{"run":"red","step":4500,"value":0.00007},{"run":"red","step":4525,"value":0.00013},{"run":"red","step":4550,"value":0.00003},{"run":"red","step":4575,"value":0.000015},{"run":"red","step":4600,"value":0.0002},{"run":"red","step":4650,"value":0.00018},{"run":"red","step":4700,"value":0.00034},{"run":"red","step":4750,"value":0.00029},{"run":"red","step":4800,"value":0.00045},{"run":"red","step":4850,"value":0.00033},{"run":"red","step":4900,"value":0.00028},{"run":"red","step":4950,"value":0.0005},{"run":"red","step":5000,"value":0.00055}
    ]
  },
  "encoding": {
    "x": {
      "field": "step", "type": "quantitative",
      "scale": {"domain": [-500, 5500], "nice": false, "zero": false},
      "axis": {
        "values": [-500, 0, 500, 1000, 1500, 2000, 2500, 3000, 3500, 4000, 4500, 5000, 5500],
        "labelExpr": "datum.value < 0 || datum.value > 5000 ? '' : (datum.value >= 1000 ? format(datum.value / 1000, '~g') + 'k' : format(datum.value, 'd'))",
        "grid": true,
        "gridColor": {"condition": {"test": "datum.value === 0", "value": "#9e9e9e"}, "value": "#c8c8c8"},
        "gridWidth": {"condition": {"test": "datum.value === 0", "value": 2.5}, "value": 1},
        "ticks": true, "tickColor": "#c8c8c8", "tickSize": 9, "tickWidth": 1, "labelPadding": 7
      }
    },
    "y": {
      "field": "value", "type": "quantitative",
      "scale": {"type": "log", "domain": [0.0000035, 3200], "nice": false},
      "axis": {
        "values": [0.000004, 0.000005, 0.000006, 0.000007, 0.000008, 0.000009, 0.00001, 0.00002, 0.00003, 0.00004, 0.00005, 0.00006, 0.00007, 0.00008, 0.00009, 0.0001, 0.0002, 0.0003, 0.0004, 0.0005, 0.0006, 0.0007, 0.0008, 0.0009, 0.001, 0.002, 0.003, 0.004, 0.005, 0.006, 0.007, 0.008, 0.009, 0.01, 0.02, 0.03, 0.04, 0.05, 0.06, 0.07, 0.08, 0.09, 0.1, 0.2, 0.3, 0.4, 0.5, 0.6, 0.7, 0.8, 0.9, 1, 2, 3, 4, 5, 6, 7, 8, 9, 10, 20, 30, 40, 50, 60, 70, 80, 90, 100, 200, 300, 400, 500, 600, 700, 800, 900, 1000, 2000, 3000],
        "labelExpr": "(datum.value == 500 || datum.value == 60 || datum.value == 7 || datum.value == 0.8 || datum.value == 0.09 || datum.value == 0.01) ? format(datum.value, '~g') : ((datum.value == 0.002 || datum.value == 0.0003 || datum.value == 0.00004 || datum.value == 0.000005) ? format(datum.value, '.0e') : '')",
        "grid": true, "gridColor": "#d2d2d2", "gridWidth": 1,
        "ticks": true, "tickColor": "#d2d2d2", "tickSize": 9, "tickWidth": 1, "labelPadding": 10
      }
    },
    "color": {
      "field": "run", "type": "nominal", "legend": null,
      "scale": {"domain": ["cyan", "orange", "blue", "magenta", "red"], "range": ["#33bbee", "#ff7043", "#0077bb", "#ee3377", "#cc3311"]}
    }
  },
  "layer": [
    {"data": {"name": "raw"}, "mark": {"type": "line", "strokeWidth": 3, "opacity": 0.3, "strokeJoin": "round", "clip": true}, "encoding": {"order": {"field": "step"}}},
    {"data": {"name": "smooth"}, "mark": {"type": "line", "strokeWidth": 3.5, "strokeJoin": "round", "clip": true}, "encoding": {"order": {"field": "step"}}},
    {"data": {"name": "smooth"}, "transform": [{"filter": "datum.step == 5000"}], "mark": {"type": "circle", "size": 170, "opacity": 1}, "encoding": {}}
  ]
}
